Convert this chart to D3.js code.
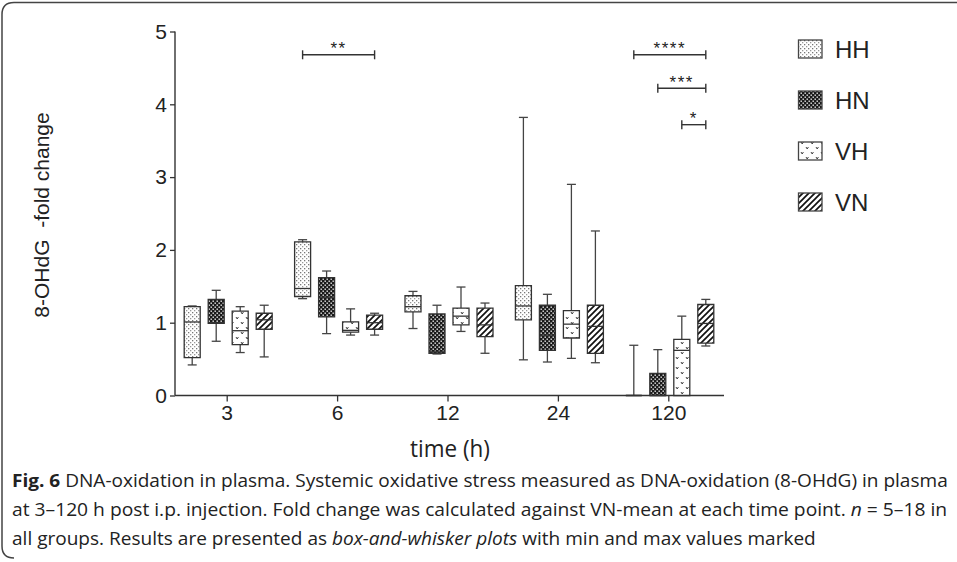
<!DOCTYPE html>
<html><head><meta charset="utf-8">
<script src="https://cdn.jsdelivr.net/npm/d3@7/dist/d3.min.js"></script>
<style>
html,body{margin:0;padding:0;background:#fff;}
svg{display:block;}
</style></head>
<body>
<script>
// ---- data ----
const groups = ["3", "6", "12", "24", "120"];
const series = ["HH", "HN", "VH", "VN"];
const yTicks = [0, 1, 2, 3, 4, 5];
// five-number summaries [min, q1, median, q3, max] per time point
const HH = [[0.42, 0.52, 1.01, 1.22, 1.23], [1.33, 1.36, 1.47, 2.11, 2.14], [0.92, 1.15, 1.22, 1.37, 1.43], [0.49, 1.04, 1.23, 1.51, 3.82], [0, 0, 0, 0, 0.69]];
const HN = [[0.745, 0.99, 1.0, 1.32, 1.445], [0.85, 1.08, 1.35, 1.62, 1.71], [0.57, 0.58, 0.6, 1.12, 1.24], [0.46, 0.62, 0.83, 1.24, 1.39], [0, 0, 0, 0.305, 0.63]];
const VH = [[0.59, 0.70, 0.89, 1.16, 1.22], [0.83, 0.87, 0.895, 1.01, 1.19], [0.88, 0.97, 1.09, 1.20, 1.49], [0.51, 0.79, 0.98, 1.165, 2.90], [0, 0, 0.62, 0.77, 1.09]];
const VN = [[0.53, 0.91, 1.04, 1.13, 1.24], [0.83, 0.91, 1.0, 1.105, 1.13], [0.58, 0.81, 0.97, 1.20, 1.27], [0.45, 0.58, 0.95, 1.24, 2.26], [0.68, 0.72, 0.99, 1.25, 1.32]];
// significance brackets
const sigLabels = ["**", "****", "***", "*"];
const sigGroup = ["6", "120", "120", "120"];
const sigFrom = ["HH", "HH", "HN", "VH"];
const sigTo = ["VN", "VN", "VN", "VN"];
const sigLevel = [4.68, 4.68, 4.22, 3.72];
const yTitle = "8-OHdG\u00a0\u00a0-fold change";
const xTitle = "time (h)";

const seriesData = {HH, HN, VH, VN};

const W = 957, H = 562;
const svg = d3.select("body").append("svg").attr("width", W).attr("height", H);
const font = "'Liberation Sans', Arial, sans-serif";

// ---- patterns ----
const defs = svg.append("defs");
let p = defs.append("pattern").attr("id", "pHH").attr("patternUnits", "userSpaceOnUse").attr("width", 4).attr("height", 4);
p.append("rect").attr("width", 4).attr("height", 4).attr("fill", "#fff");
p.append("rect").attr("x", 0).attr("y", 0).attr("width", 1.3).attr("height", 1.3).attr("fill", "#777");
p.append("rect").attr("x", 2).attr("y", 2).attr("width", 1.3).attr("height", 1.3).attr("fill", "#999");

p = defs.append("pattern").attr("id", "pHN").attr("patternUnits", "userSpaceOnUse").attr("width", 4).attr("height", 4);
p.append("rect").attr("width", 4).attr("height", 4).attr("fill", "#1a1a1a");
p.append("rect").attr("x", 0.5).attr("y", 0.5).attr("width", 1.4).attr("height", 1.4).attr("fill", "#eee");
p.append("rect").attr("x", 2.5).attr("y", 2.5).attr("width", 1.4).attr("height", 1.4).attr("fill", "#eee");

p = defs.append("pattern").attr("id", "pVH").attr("patternUnits", "userSpaceOnUse").attr("width", 10).attr("height", 10);
p.append("rect").attr("width", 10).attr("height", 10).attr("fill", "#fff");
p.append("path").attr("d", "M1,2 l1.2,2 l1.2,-2 M6,7 l1.2,2 l1.2,-2").attr("stroke", "#444").attr("stroke-width", 1).attr("fill", "none");

p = defs.append("pattern").attr("id", "pVN").attr("patternUnits", "userSpaceOnUse").attr("width", 6).attr("height", 6);
p.append("rect").attr("width", 6).attr("height", 6).attr("fill", "#fff");
p.append("path").attr("d", "M-1,1 l2,-2 M0,6 l6,-6 M5,7 l2,-2").attr("stroke", "#111").attr("stroke-width", 1.7);

// ---- frame ----
svg.append("path")
  .attr("d", "M957,2.5 H14 Q2,2.5 2,14.5 V546 Q2,558 14,558")
  .attr("fill", "none").attr("stroke", "#444").attr("stroke-width", 1.5);

// ---- scales ----
const x = d3.scaleBand().domain(groups).range([172, 724]);
const sub = d3.scalePoint().domain(series).range([-35, 37]);
const y = d3.scaleLinear().domain([0, 5]).range([395.5, 31.5]);
const boxW = 16, capW = 9;
const cx = (g, s) => x(g) + x.bandwidth() / 2 + sub(s);

// ---- axes ----
const yAxis = svg.append("g").attr("transform", "translate(175,0)")
  .call(d3.axisLeft(y).tickValues(yTicks).tickFormat(d3.format("d")).tickSize(5).tickPadding(3));
const xAxis = svg.append("g").attr("transform", "translate(0,395.5)")
  .call(d3.axisBottom(x).tickSize(6).tickPadding(4));
[yAxis, xAxis].forEach(a => {
  a.select(".domain").remove();
  a.selectAll("line").attr("stroke", "#333").attr("stroke-width", 1.3);
  a.selectAll("text").attr("font-family", font).attr("font-size", 21).attr("fill", "#222");
});
svg.append("line").attr("x1", 175).attr("x2", 175).attr("y1", y(5)).attr("y2", y(0))
  .attr("stroke", "#333").attr("stroke-width", 1.4);
svg.append("line").attr("x1", 175).attr("x2", 724).attr("y1", y(0)).attr("y2", y(0))
  .attr("stroke", "#333").attr("stroke-width", 1.4);

// ---- boxes ----
const plot = svg.append("g");
series.forEach(s => {
  seriesData[s].forEach((v, i) => {
    const g = groups[i];
    const c = cx(g, s);
    const [mn, q1, md, q3, mx] = v;
    const gg = plot.append("g");
    const wl = "#444";
    if (mx > q3) {
      gg.append("line").attr("x1", c).attr("x2", c).attr("y1", y(q3)).attr("y2", y(mx)).attr("stroke", wl).attr("stroke-width", 1.3);
      gg.append("line").attr("x1", c - capW / 2).attr("x2", c + capW / 2).attr("y1", y(mx)).attr("y2", y(mx)).attr("stroke", wl).attr("stroke-width", 1.3);
    }
    if (mn < q1) {
      gg.append("line").attr("x1", c).attr("x2", c).attr("y1", y(q1)).attr("y2", y(mn)).attr("stroke", wl).attr("stroke-width", 1.3);
      gg.append("line").attr("x1", c - capW / 2).attr("x2", c + capW / 2).attr("y1", y(mn)).attr("y2", y(mn)).attr("stroke", wl).attr("stroke-width", 1.3);
    }
    const x0 = c - boxW / 2, x1 = c + boxW / 2;
    gg.append("path")
      .attr("d", `M${x0},${y(q3)} H${x1} V${y(q1)} H${x0} Z`)
      .attr("fill", `url(#p${s})`).attr("stroke", "#333").attr("stroke-width", 1.3);
    gg.append("line").attr("x1", x0).attr("x2", x1).attr("y1", y(md)).attr("y2", y(md))
      .attr("stroke", "#333").attr("stroke-width", 1.3);
  });
});

// ---- significance ----
sigLabels.forEach((lab, i) => {
  const xa = cx(sigGroup[i], sigFrom[i]), xb = cx(sigGroup[i], sigTo[i]);
  const yy = y(sigLevel[i]);
  svg.append("line").attr("x1", xa).attr("x2", xb).attr("y1", yy).attr("y2", yy).attr("stroke", "#333").attr("stroke-width", 1.4);
  [xa, xb].forEach(xx => svg.append("line").attr("x1", xx).attr("x2", xx).attr("y1", yy - 4.5).attr("y2", yy + 4.5).attr("stroke", "#333").attr("stroke-width", 1.4));
  svg.append("text").attr("x", (xa + xb) / 2).attr("y", yy - 0.5)
    .attr("text-anchor", "middle").attr("font-family", font).attr("font-size", 17)
    .attr("letter-spacing", 1.5).attr("fill", "#222").text(lab);
});

// ---- legend ----
const leg = svg.append("g");
series.forEach((s, i) => {
  const ty = 40 + i * 51;
  leg.append("rect").attr("x", 798.5).attr("y", ty).attr("width", 23.5).attr("height", 18)
    .attr("fill", `url(#p${s})`).attr("stroke", "#444").attr("stroke-width", 1.3);
  leg.append("text").attr("x", 835).attr("y", ty + 17.5).attr("font-family", font).attr("font-size", 24)
    .attr("fill", "#222").text(s);
});

// ---- titles ----
svg.append("text").attr("transform", "translate(49,215) rotate(-90)")
  .attr("text-anchor", "middle").attr("font-family", font).attr("font-size", 21)
  .attr("fill", "#222").text(yTitle);

function scaleX(sel, k) {
  const ax = +sel.attr("x");
  sel.attr("transform", `translate(${ax},0) scale(${k},1) translate(${-ax},0)`);
}
const condensed = "'Open Sans', 'Noto Sans', sans-serif";
const xt = svg.append("text").attr("x", 410).attr("y", 457)
  .attr("font-family", condensed).attr("font-size", 23).attr("fill", "#222").text(xTitle);
scaleX(xt, 80 / xt.node().getComputedTextLength());

// ---- caption ----
const capLines = [
  [["Fig. 6", "bold", "normal"], [" DNA-oxidation in plasma. Systemic oxidative stress measured as DNA-oxidation (8-OHdG) in plasma", "normal", "normal"]],
  [["at 3\u2013120 h post i.p. injection. Fold change was calculated against VN-mean at each time point. ", "normal", "normal"], ["n", "normal", "italic"], [" = 5\u201318 in", "normal", "normal"]],
  [["all groups. Results are presented as ", "normal", "normal"], ["box-and-whisker plots", "normal", "italic"], [" with min and max values marked", "normal", "normal"]]
];
const capY = [487, 516, 545];
const capTexts = capLines.map((ln, i) => {
  const t = svg.append("text").attr("x", 12).attr("y", capY[i]).attr("font-family", condensed)
    .attr("font-size", 18.5).attr("fill", "#222").style("white-space", "pre");
  ln.forEach(([txt, fw, fs]) => t.append("tspan").attr("font-weight", fw).attr("font-style", fs).text(txt));
  return t;
});
// justified paragraph: full lines fill the width, last line keeps the common compression
const k = 936 / capTexts[0].node().getComputedTextLength();
scaleX(capTexts[0], k);
scaleX(capTexts[1], 936 / capTexts[1].node().getComputedTextLength());
scaleX(capTexts[2], k);
</script>
</body></html>
